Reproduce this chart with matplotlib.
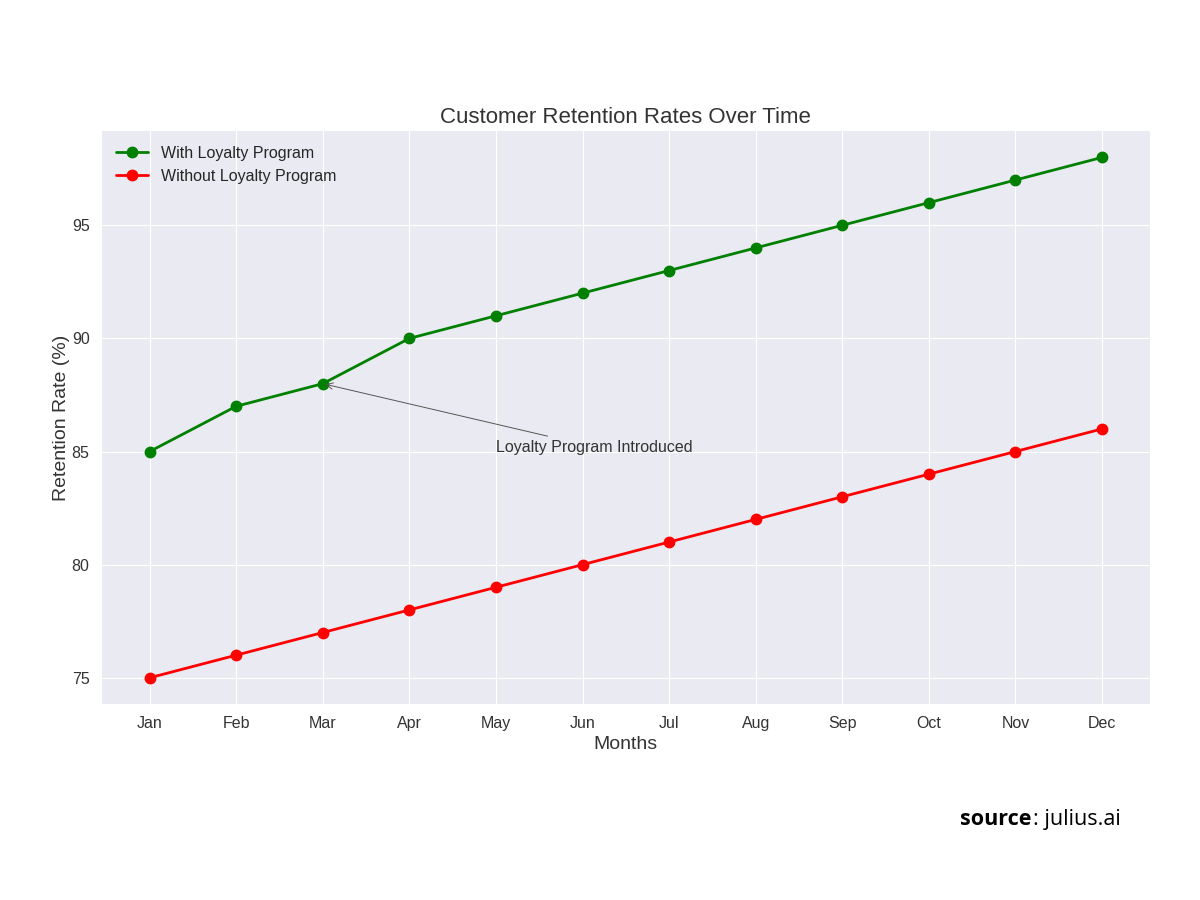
import matplotlib.pyplot as plt

months = ['Jan', 'Feb', 'Mar', 'Apr', 'May', 'Jun', 'Jul', 'Aug', 'Sep', 'Oct', 'Nov', 'Dec']
with_loyalty = [85, 87, 88, 90, 91, 92, 93, 94, 95, 96, 97, 98]
without_loyalty = [75, 76, 77, 78, 79, 80, 81, 82, 83, 84, 85, 86]

plt.style.use('seaborn-v0_8-darkgrid')
plt.rcParams['font.family'] = ['Liberation Sans', 'DejaVu Sans']

fig = plt.figure(figsize=(12, 9), dpi=100)
ax = fig.add_axes([0.085, 0.218, 0.873, 0.636])

ax.plot(months, with_loyalty, color='green', marker='o', markersize=7.5, linewidth=2,
        label='With Loyalty Program')
ax.plot(months, without_loyalty, color='red', marker='o', markersize=7.5, linewidth=2,
        label='Without Loyalty Program')

ax.annotate('Loyalty Program Introduced', xy=(2, with_loyalty[2]), xytext=(4, 85),
            fontsize=11.5, color='#333333',
            arrowprops=dict(arrowstyle='->', color='#555555', lw=0.7))

ax.set_title('Customer Retention Rates Over Time', fontsize=16, color='#333333')
ax.set_xlabel('Months', fontsize=14, color='#333333', labelpad=4)
ax.set_ylabel('Retention Rate (%)', fontsize=14, color='#333333', labelpad=1.5)
ax.set_yticks([75, 80, 85, 90, 95])
ax.tick_params(labelsize=11.5, colors='#333333')
ax.tick_params(axis='x', pad=8.5)
ax.tick_params(axis='y', pad=9)
ax.legend(loc='upper left', fontsize=11.5)

fig.text(0.8, 0.0835, 'source', fontsize=15.5, fontweight='bold', family='Open Sans', color='black')
fig.text(0.861, 0.0835, ': julius.ai', fontsize=15.5, family='Open Sans', color='black')

fig.savefig('out.png', dpi=100)
